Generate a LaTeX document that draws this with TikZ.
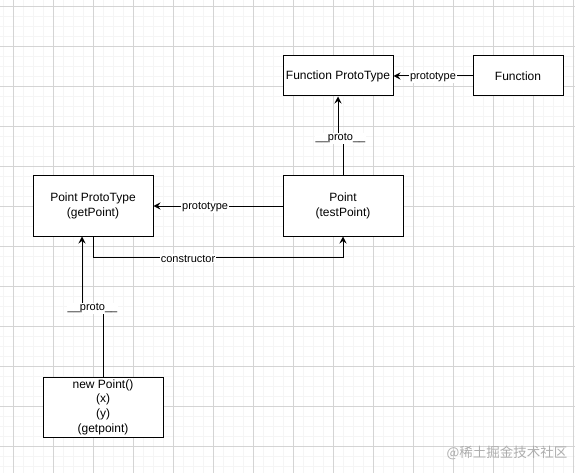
\documentclass[tikz,border=0pt]{standalone}
\usepackage{fontspec}
\setmainfont{Liberation Sans}
\newfontfamily\cjkfont{Noto Sans CJK SC}
\usetikzlibrary{arrows.meta}

\begin{document}
\begin{tikzpicture}[x=1pt, y=-1pt,
	box/.style={shape=rectangle, draw, fill=white, line width=1pt, align=center, inner sep=0pt, font=\fontsize{12}{14.6}\selectfont},
	lbl/.style={fill=white, inner sep=1pt, yshift=-1pt, font=\fontsize{11}{13}\selectfont},
	arr/.style={line width=1pt, -{Stealth[length=7pt, width=7pt, inset=2.5pt]}},
	minorgrid/.style={draw=black!4, line width=0.6pt},
	majorgrid/.style={draw=black!17, line width=0.8pt}]
	\useasboundingbox (0, 0) rectangle (575, 473);
	% Background grid:
	\foreach \gx in {3, 13, ..., 573} \draw[minorgrid] (\gx, 0) -- (\gx, 473);
	\foreach \gy in {6, 16, ..., 466} \draw[minorgrid] (0, \gy) -- (575, \gy);
	\foreach \gx in {13, 53, ..., 573} \draw[majorgrid] (\gx, 0) -- (\gx, 473);
	\foreach \gy in {6, 46, ..., 446} \draw[majorgrid] (0, \gy) -- (575, \gy);
	% Boxes:
	\node[box, minimum width=110pt, minimum height=40pt] (funcproto) at (338, 76) {Function ProtoType};
	\node[box, minimum width=90pt, minimum height=40pt] (func) at (518, 76) {Function};
	\node[box, minimum width=120pt, minimum height=60pt] (pointproto) at (93, 206) {Point ProtoType\\(getPoint)};
	\node[box, minimum width=120pt, minimum height=60pt] (point) at (343, 206) {Point\\(testPoint)};
	\node[box, minimum width=120pt, minimum height=60pt] (newpoint) at (103, 407) {new Point()\\(x)\\(y)\\(getpoint)};
	% Links:
	\draw[arr] (func.west) -- (funcproto.east) node[lbl, midway] {prototype};
	\draw[arr] (point.north) -- ++(0, -38) -| node[lbl, pos=0.25] {\_\_proto\_\_} (funcproto.south);
	\draw[arr] (point.west) -- (pointproto.east) node[lbl, pos=0.6] {prototype};
	\draw[arr] (pointproto.south) -- ++(0, 21) -| node[lbl, pos=0.19] {constructor} (point.south);
	\draw[arr] (newpoint.north) -- ++(0, -69) -| node[lbl, pos=0.25] {\_\_proto\_\_} ([xshift=-11pt]pointproto.south);
	% Watermark:
	\node[text=black!32, font=\cjkfont\fontsize{13.5}{15}\selectfont] (mark) at (507, 453) {@稀土掘金技术社区};
\end{tikzpicture}
\end{document}
